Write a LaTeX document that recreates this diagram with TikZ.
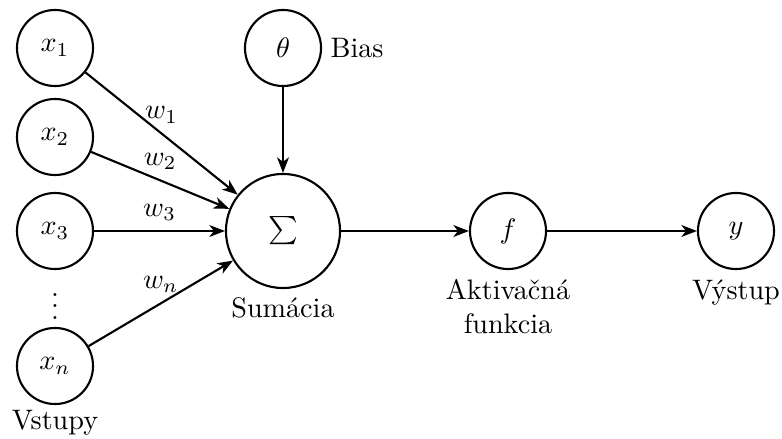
\documentclass[tikz,border=0pt]{standalone}
\usetikzlibrary{arrows.meta}
\begin{document}
\begin{tikzpicture}[x=0.355pt,y=-0.355pt,
  neuron/.style={circle,draw,line width=0.75pt,minimum size=27pt,inner sep=0pt},
  sumnode/.style={neuron,minimum size=40.5pt},
  link/.style={line width=0.75pt,-{Stealth[length=5.5pt,width=4.2pt,inset=1.6pt]}},
  caption/.style={inner sep=0pt,align=center}]
\useasboundingbox (0,0) rectangle (782,439);

% inputs
\node[neuron] (x1) at (55,48) {$x_1$};
\node[neuron] (x2) at (55,137) {$x_2$};
\node[neuron] (x3) at (55,231) {$x_3$};
\node (dots) at (55,298) {$\vdots$};
\node[neuron] (xn) at (55,366) {$x_n$};

% summation, bias, activation, output
\node[sumnode] (sum) at (283,231) {$\sum$};
\node[neuron] (theta) at (283,48) {$\theta$};
\node[neuron] (f) at (508,231) {$f$};
\node[neuron] (y) at (736,231) {$y$};

% captions
\node[caption,anchor=west] (bias) at (330,48) {Bias};
\node[caption,anchor=north] (sumcap) at (283,297) {Sumácia};
\node[caption,anchor=north] (fcap) at (508,279) {Aktivačná\\funkcia};
\node[caption,anchor=base] (ycap) at (736,299) {Výstup};
\node[caption,anchor=north] (incap) at (55,410) {Vstupy};

% weighted connections
\draw[link] (x1) -- node[above] {$w_1$} (sum);
\draw[link] (x2) -- node[above] {$w_2$} (sum);
\draw[link] (x3) -- node[above] {$w_3$} (sum);
\draw[link] (xn) -- node[above] {$w_n$} (sum);
\draw[link] (theta) -- (sum);
\draw[link] (sum) -- (f);
\draw[link] (f) -- (y);
\end{tikzpicture}
\end{document}
